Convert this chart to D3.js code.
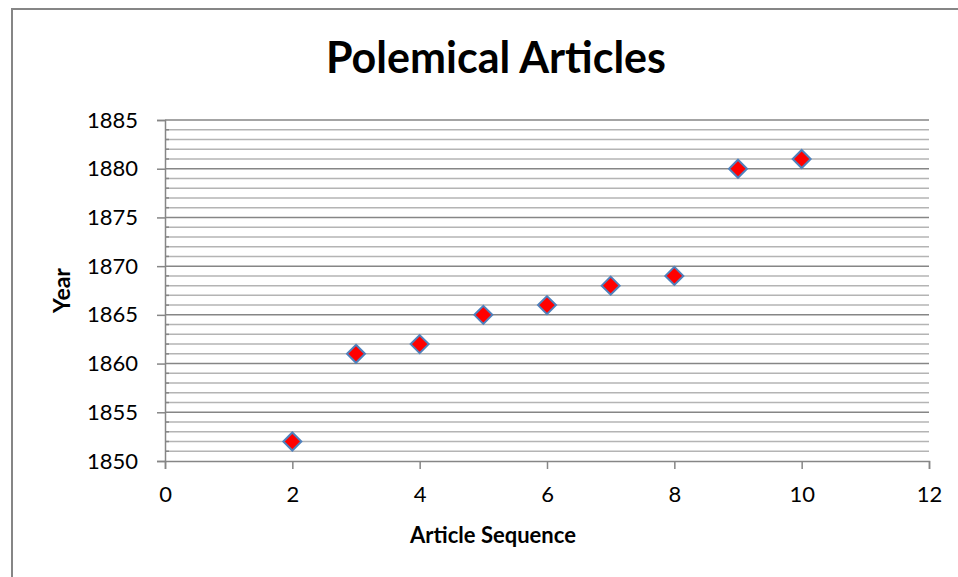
<!DOCTYPE html>
<html>
<head>
<meta charset="utf-8">
<script src="https://cdn.jsdelivr.net/npm/d3@7"></script>
<style>
  body { margin: 0; background: #fff; }
  svg { display: block; font-family: Lato, 'Open Sans', sans-serif; }
</style>
</head>
<body>
<svg id="chart" width="958" height="577"></svg>
<script>
// article sequence vs year
const sequence = [2, 3, 4, 5, 6, 7, 8, 9, 10];
const years = [1852, 1861, 1862, 1865, 1866, 1868, 1869, 1880, 1881];
const xTicks = [0, 2, 4, 6, 8, 10, 12];
const yTicks = [1850, 1855, 1860, 1865, 1870, 1875, 1880, 1885];

const margin = { top: 120, right: 29, bottom: 116, left: 165 };
const w = 958;
const h = 577;

const svg = d3.select('#chart');

// chart frame
svg.append('rect')
  .attr('x', 12).attr('y', 9)
  .attr('width', 1000).attr('height', 700)
  .attr('fill', '#fff')
  .attr('stroke', '#868686')
  .attr('stroke-width', 2);

const xScale = d3.scaleLinear().domain([0, 12]).range([margin.left, w - margin.right]);
const yScale = d3.scaleLinear().domain([1850, 1885]).range([h - margin.bottom, margin.top]);

const minor = d3.range(1850, 1886).filter(d => d % 5 !== 0);

// minor gridlines
svg.append('g').selectAll('line')
  .data(minor)
  .enter().append('line')
  .attr('x1', margin.left).attr('x2', w - margin.right)
  .attr('y1', d => yScale(d)).attr('y2', d => yScale(d))
  .attr('stroke', '#b4b4b4').attr('stroke-width', 1.5);

// minor ticks on the y axis
svg.append('g').selectAll('line')
  .data(minor)
  .enter().append('line')
  .attr('x1', margin.left).attr('x2', margin.left + 4)
  .attr('y1', d => yScale(d)).attr('y2', d => yScale(d))
  .attr('stroke', '#868686').attr('stroke-width', 1.5);

// major gridlines
svg.append('g').selectAll('line')
  .data(yTicks.slice(1))
  .enter().append('line')
  .attr('x1', margin.left).attr('x2', w - margin.right)
  .attr('y1', d => yScale(d)).attr('y2', d => yScale(d))
  .attr('stroke', '#868686').attr('stroke-width', 1.5);

const yAxis = svg.append('g')
  .attr('transform', `translate(${margin.left},0)`)
  .call(d3.axisLeft(yScale).tickValues(yTicks).tickSize(8).tickPadding(19).tickFormat(d3.format('d')));

const xAxis = svg.append('g')
  .attr('transform', `translate(0,${h - margin.bottom})`)
  .call(d3.axisBottom(xScale).tickValues(xTicks).tickSize(8).tickPadding(17));

[xAxis, yAxis].forEach(a => {
  a.select('.domain').attr('stroke', '#868686').attr('stroke-width', 1.5);
  a.selectAll('.tick line').attr('stroke', '#868686').attr('stroke-width', 1.5);
  a.selectAll('text').attr('fill', '#000').style('font-size', '22px').style('font-family', 'Lato, sans-serif');
});

// markers
svg.append('g').selectAll('path')
  .data(sequence.map((d, i) => ({ x: d, y: years[i] })))
  .enter().append('path')
  .attr('transform', d => `translate(${xScale(d.x)},${yScale(d.y)})`)
  .attr('d', 'M0,-9L9,0L0,9L-9,0Z')
  .attr('fill', '#ff0000')
  .attr('stroke', '#4f81bd')
  .attr('stroke-width', 2);

svg.append('text')
  .attr('x', 496).attr('y', 73)
  .attr('text-anchor', 'middle')
  .style('font-size', '43px').style('font-weight', 'bold')
  .text('Polemical Articles');

svg.append('text')
  .attr('x', 493).attr('y', 543)
  .attr('text-anchor', 'middle')
  .style('font-size', '22px').style('font-weight', 'bold')
  .text('Article Sequence');

svg.append('text')
  .attr('transform', `translate(70,${(yScale(1850) + yScale(1885)) / 2}) rotate(-90)`)
  .attr('text-anchor', 'middle')
  .style('font-size', '23px').style('font-weight', 'bold')
  .text('Year');
</script>
</body>
</html>
